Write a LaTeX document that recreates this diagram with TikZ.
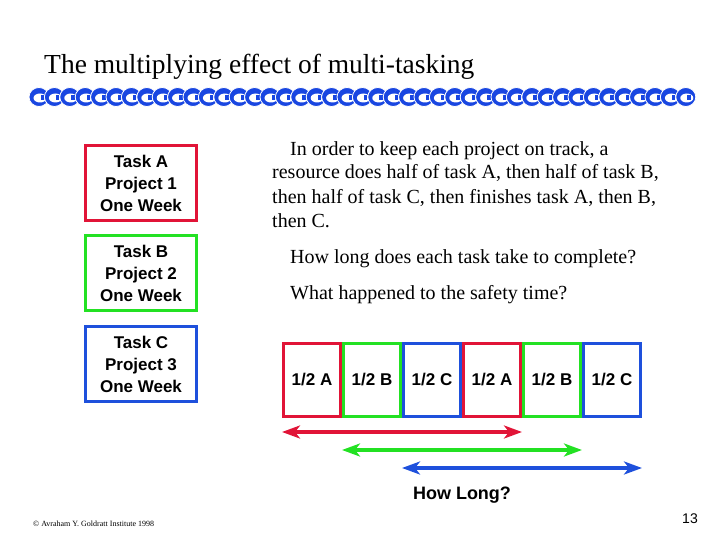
\documentclass[tikz,border=0pt]{standalone}
\usepackage{fontspec}
\setmainfont{Liberation Serif}
\setsansfont{Liberation Sans}
\usepackage{tikz}
\usepackage{xcolor}
\usetikzlibrary{
    arrows.meta,
    calc,
    positioning
}
\definecolor{taskred}{RGB}{225,20,55}
\definecolor{taskgreen}{RGB}{35,225,35}
\definecolor{taskblue}{RGB}{30,80,220}
\definecolor{chainblue}{RGB}{25,70,225}

\begin{document}
\begin{tikzpicture}[x=1pt, y=-1pt,
        taskbox/.style={draw=#1, line width=3.3pt, minimum width=111pt, minimum height=75pt,
            align=center, inner sep=0pt, font=\sffamily\bfseries\fontsize{17}{22}\selectfont},
        halfbox/.style={draw=#1, line width=3pt, minimum width=57pt, minimum height=73pt,
            inner sep=0pt, font=\sffamily\bfseries\fontsize{17}{22}\selectfont},
        span/.style={#1, line width=4pt, {Stealth[length=18pt,width=13pt,inset=5pt]}-{Stealth[length=18pt,width=13pt,inset=5pt]}},
        prose/.style={anchor=base west, inner sep=0pt, align=left, font=\fontsize{20}{24}\selectfont}
    ]
    \useasboundingbox (0,0) rectangle (720,540);

    \node[anchor=base west, inner sep=0pt, font=\fontsize{27.5}{30}\selectfont] (title) at (44,74) {The multiplying effect of multi-tasking};

    % chain under the title
    \foreach \i in {0,...,42} {
        \filldraw[fill=chainblue, draw=white, line width=0.8pt] ({39+\i*15.4},97) ellipse (10pt and 9.5pt);
        \fill[white] ({40+\i*15.4},98) ellipse (6.5pt and 4.5pt);
        \fill[chainblue] ({40.5+\i*15.4},100) rectangle +(3.5,-4.5);
    }

    \node[taskbox=taskred] (ta) at (141,183) {Task A\\Project 1\\One Week};
    \node[taskbox=taskgreen, below=12pt of ta] (tb) {Task B\\Project 2\\One Week};
    \node[taskbox=taskblue, below=12.5pt of tb] (tc) {Task C\\Project 3\\One Week};

    % base anchor of a multi-line node sits on its last line
    \node[prose] (plan) at (272,227) {\hspace*{18pt}In order to keep each project on track, a\\resource does half of task A, then half of task B,\\then half of task C, then finishes task A, then B,\\then C.};
    \node[prose] (ask) at (290,263) {How long does each task take to complete?};
    \node[prose] (safety) at (290,299) {What happened to the safety time?};

    \node[halfbox=taskred] (h1) at (312,380) {1/2 A};
    \node[halfbox=taskgreen, right=0pt of h1] (h2) {1/2 B};
    \node[halfbox=taskblue, right=0pt of h2] (h3) {1/2 C};
    \node[halfbox=taskred, right=0pt of h3] (h4) {1/2 A};
    \node[halfbox=taskgreen, right=0pt of h4] (h5) {1/2 B};
    \node[halfbox=taskblue, right=0pt of h5] (h6) {1/2 C};

    \coordinate (redL) at ([yshift=-14pt]h1.south west);
    \coordinate (redR) at ([yshift=-14pt]h4.south east);
    \coordinate (greenL) at ([yshift=-32pt]h2.south west);
    \coordinate (greenR) at ([yshift=-32pt]h5.south east);
    \coordinate (blueL) at ([yshift=-50pt]h3.south west);
    \coordinate (blueR) at ([yshift=-50pt]h6.south east);

    \draw
    (redL) edge[span=taskred] (redR)
    (greenL) edge[span=taskgreen] (greenR)
    (blueL) edge[span=taskblue] (blueR);

    \node[font=\sffamily\bfseries\fontsize{18}{20}\selectfont] (howlong) at (462,495) {How Long?};
    \node[anchor=base, inner sep=0pt, font=\sffamily\fontsize{14}{16}\selectfont] (page) at (690,523) {13};
    \node[anchor=base west, inner sep=0pt, font=\fontsize{8}{9}\selectfont] (copy) at (33,526) {\textcopyright\ Avraham Y. Goldratt Institute 1998};
\end{tikzpicture}
\end{document}
